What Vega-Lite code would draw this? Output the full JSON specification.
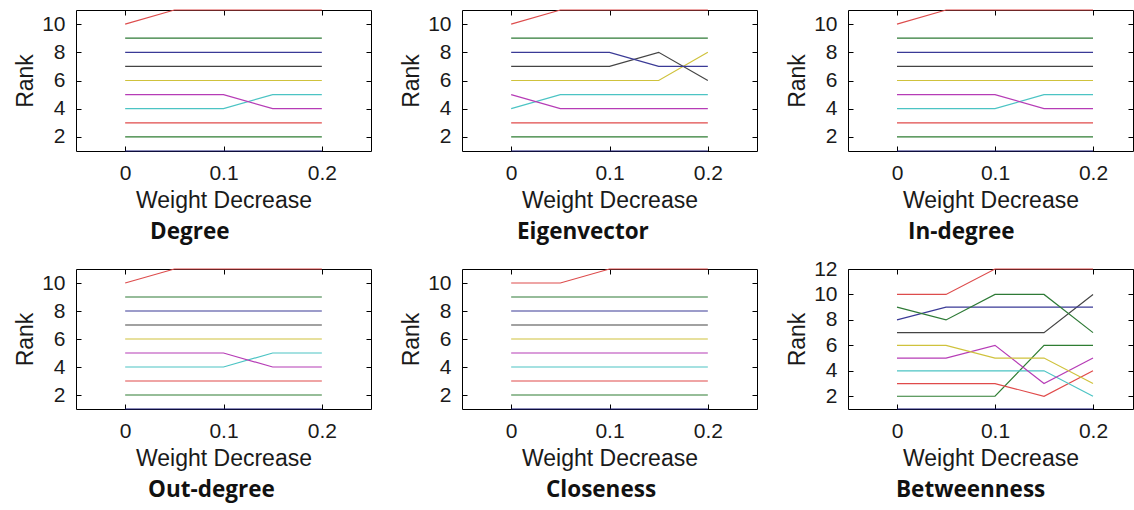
{
  "$schema": "https://vega.github.io/schema/vega-lite/v6.json",
  "background": "white",
  "padding": {"left": 14, "top": 7, "right": 0, "bottom": 10},
  "datasets": {
    "d": [
      {"p":"Degree","s":"s1","x":0,"r":1},{"p":"Degree","s":"s1","x":0.2,"r":1},
      {"p":"Degree","s":"s2","x":0,"r":2},{"p":"Degree","s":"s2","x":0.2,"r":2},
      {"p":"Degree","s":"s3","x":0,"r":3},{"p":"Degree","s":"s3","x":0.2,"r":3},
      {"p":"Degree","s":"s4","x":0,"r":4},{"p":"Degree","s":"s4","x":0.1,"r":4},{"p":"Degree","s":"s4","x":0.15,"r":5},{"p":"Degree","s":"s4","x":0.2,"r":5},
      {"p":"Degree","s":"s5","x":0,"r":5},{"p":"Degree","s":"s5","x":0.1,"r":5},{"p":"Degree","s":"s5","x":0.15,"r":4},{"p":"Degree","s":"s5","x":0.2,"r":4},
      {"p":"Degree","s":"s6","x":0,"r":6},{"p":"Degree","s":"s6","x":0.2,"r":6},
      {"p":"Degree","s":"s7","x":0,"r":7},{"p":"Degree","s":"s7","x":0.2,"r":7},
      {"p":"Degree","s":"s8","x":0,"r":8},{"p":"Degree","s":"s8","x":0.2,"r":8},
      {"p":"Degree","s":"s9","x":0,"r":9},{"p":"Degree","s":"s9","x":0.2,"r":9},
      {"p":"Degree","s":"s10","x":0,"r":10},{"p":"Degree","s":"s10","x":0.05,"r":11},{"p":"Degree","s":"s10","x":0.2,"r":11},

      {"p":"Eigenvector","s":"s1","x":0,"r":1},{"p":"Eigenvector","s":"s1","x":0.2,"r":1},
      {"p":"Eigenvector","s":"s2","x":0,"r":2},{"p":"Eigenvector","s":"s2","x":0.2,"r":2},
      {"p":"Eigenvector","s":"s3","x":0,"r":3},{"p":"Eigenvector","s":"s3","x":0.2,"r":3},
      {"p":"Eigenvector","s":"s4","x":0,"r":4},{"p":"Eigenvector","s":"s4","x":0.05,"r":5},{"p":"Eigenvector","s":"s4","x":0.2,"r":5},
      {"p":"Eigenvector","s":"s5","x":0,"r":5},{"p":"Eigenvector","s":"s5","x":0.05,"r":4},{"p":"Eigenvector","s":"s5","x":0.2,"r":4},
      {"p":"Eigenvector","s":"s6","x":0,"r":6},{"p":"Eigenvector","s":"s6","x":0.15,"r":6},{"p":"Eigenvector","s":"s6","x":0.2,"r":8},
      {"p":"Eigenvector","s":"s7","x":0,"r":7},{"p":"Eigenvector","s":"s7","x":0.1,"r":7},{"p":"Eigenvector","s":"s7","x":0.15,"r":8},{"p":"Eigenvector","s":"s7","x":0.2,"r":6},
      {"p":"Eigenvector","s":"s8","x":0,"r":8},{"p":"Eigenvector","s":"s8","x":0.1,"r":8},{"p":"Eigenvector","s":"s8","x":0.15,"r":7},{"p":"Eigenvector","s":"s8","x":0.2,"r":7},
      {"p":"Eigenvector","s":"s9","x":0,"r":9},{"p":"Eigenvector","s":"s9","x":0.2,"r":9},
      {"p":"Eigenvector","s":"s10","x":0,"r":10},{"p":"Eigenvector","s":"s10","x":0.05,"r":11},{"p":"Eigenvector","s":"s10","x":0.2,"r":11},

      {"p":"In-degree","s":"s1","x":0,"r":1},{"p":"In-degree","s":"s1","x":0.2,"r":1},
      {"p":"In-degree","s":"s2","x":0,"r":2},{"p":"In-degree","s":"s2","x":0.2,"r":2},
      {"p":"In-degree","s":"s3","x":0,"r":3},{"p":"In-degree","s":"s3","x":0.2,"r":3},
      {"p":"In-degree","s":"s4","x":0,"r":4},{"p":"In-degree","s":"s4","x":0.1,"r":4},{"p":"In-degree","s":"s4","x":0.15,"r":5},{"p":"In-degree","s":"s4","x":0.2,"r":5},
      {"p":"In-degree","s":"s5","x":0,"r":5},{"p":"In-degree","s":"s5","x":0.1,"r":5},{"p":"In-degree","s":"s5","x":0.15,"r":4},{"p":"In-degree","s":"s5","x":0.2,"r":4},
      {"p":"In-degree","s":"s6","x":0,"r":6},{"p":"In-degree","s":"s6","x":0.2,"r":6},
      {"p":"In-degree","s":"s7","x":0,"r":7},{"p":"In-degree","s":"s7","x":0.2,"r":7},
      {"p":"In-degree","s":"s8","x":0,"r":8},{"p":"In-degree","s":"s8","x":0.2,"r":8},
      {"p":"In-degree","s":"s9","x":0,"r":9},{"p":"In-degree","s":"s9","x":0.2,"r":9},
      {"p":"In-degree","s":"s10","x":0,"r":10},{"p":"In-degree","s":"s10","x":0.05,"r":11},{"p":"In-degree","s":"s10","x":0.2,"r":11},

      {"p":"Out-degree","s":"s1","x":0,"r":1},{"p":"Out-degree","s":"s1","x":0.2,"r":1},
      {"p":"Out-degree","s":"s2","x":0,"r":2},{"p":"Out-degree","s":"s2","x":0.2,"r":2},
      {"p":"Out-degree","s":"s3","x":0,"r":3},{"p":"Out-degree","s":"s3","x":0.2,"r":3},
      {"p":"Out-degree","s":"s4","x":0,"r":4},{"p":"Out-degree","s":"s4","x":0.1,"r":4},{"p":"Out-degree","s":"s4","x":0.15,"r":5},{"p":"Out-degree","s":"s4","x":0.2,"r":5},
      {"p":"Out-degree","s":"s5","x":0,"r":5},{"p":"Out-degree","s":"s5","x":0.1,"r":5},{"p":"Out-degree","s":"s5","x":0.15,"r":4},{"p":"Out-degree","s":"s5","x":0.2,"r":4},
      {"p":"Out-degree","s":"s6","x":0,"r":6},{"p":"Out-degree","s":"s6","x":0.2,"r":6},
      {"p":"Out-degree","s":"s7","x":0,"r":7},{"p":"Out-degree","s":"s7","x":0.2,"r":7},
      {"p":"Out-degree","s":"s8","x":0,"r":8},{"p":"Out-degree","s":"s8","x":0.2,"r":8},
      {"p":"Out-degree","s":"s9","x":0,"r":9},{"p":"Out-degree","s":"s9","x":0.2,"r":9},
      {"p":"Out-degree","s":"s10","x":0,"r":10},{"p":"Out-degree","s":"s10","x":0.05,"r":11},{"p":"Out-degree","s":"s10","x":0.2,"r":11},

      {"p":"Closeness","s":"s1","x":0,"r":1},{"p":"Closeness","s":"s1","x":0.2,"r":1},
      {"p":"Closeness","s":"s2","x":0,"r":2},{"p":"Closeness","s":"s2","x":0.2,"r":2},
      {"p":"Closeness","s":"s3","x":0,"r":3},{"p":"Closeness","s":"s3","x":0.2,"r":3},
      {"p":"Closeness","s":"s4","x":0,"r":4},{"p":"Closeness","s":"s4","x":0.2,"r":4},
      {"p":"Closeness","s":"s5","x":0,"r":5},{"p":"Closeness","s":"s5","x":0.2,"r":5},
      {"p":"Closeness","s":"s6","x":0,"r":6},{"p":"Closeness","s":"s6","x":0.2,"r":6},
      {"p":"Closeness","s":"s7","x":0,"r":7},{"p":"Closeness","s":"s7","x":0.2,"r":7},
      {"p":"Closeness","s":"s8","x":0,"r":8},{"p":"Closeness","s":"s8","x":0.2,"r":8},
      {"p":"Closeness","s":"s9","x":0,"r":9},{"p":"Closeness","s":"s9","x":0.2,"r":9},
      {"p":"Closeness","s":"s10","x":0,"r":10},{"p":"Closeness","s":"s10","x":0.05,"r":10},{"p":"Closeness","s":"s10","x":0.1,"r":11},{"p":"Closeness","s":"s10","x":0.2,"r":11},

      {"p":"Betweenness","s":"s1","x":0,"r":1},{"p":"Betweenness","s":"s1","x":0.2,"r":1},
      {"p":"Betweenness","s":"s2","x":0,"r":2},{"p":"Betweenness","s":"s2","x":0.1,"r":2},{"p":"Betweenness","s":"s2","x":0.15,"r":6},{"p":"Betweenness","s":"s2","x":0.2,"r":6},
      {"p":"Betweenness","s":"s3","x":0,"r":3},{"p":"Betweenness","s":"s3","x":0.1,"r":3},{"p":"Betweenness","s":"s3","x":0.15,"r":2},{"p":"Betweenness","s":"s3","x":0.2,"r":4},
      {"p":"Betweenness","s":"s4","x":0,"r":4},{"p":"Betweenness","s":"s4","x":0.15,"r":4},{"p":"Betweenness","s":"s4","x":0.2,"r":2},
      {"p":"Betweenness","s":"s5","x":0,"r":5},{"p":"Betweenness","s":"s5","x":0.05,"r":5},{"p":"Betweenness","s":"s5","x":0.1,"r":6},{"p":"Betweenness","s":"s5","x":0.15,"r":3},{"p":"Betweenness","s":"s5","x":0.2,"r":5},
      {"p":"Betweenness","s":"s6","x":0,"r":6},{"p":"Betweenness","s":"s6","x":0.05,"r":6},{"p":"Betweenness","s":"s6","x":0.1,"r":5},{"p":"Betweenness","s":"s6","x":0.15,"r":5},{"p":"Betweenness","s":"s6","x":0.2,"r":3},
      {"p":"Betweenness","s":"s7","x":0,"r":7},{"p":"Betweenness","s":"s7","x":0.15,"r":7},{"p":"Betweenness","s":"s7","x":0.2,"r":10},
      {"p":"Betweenness","s":"s8","x":0,"r":8},{"p":"Betweenness","s":"s8","x":0.05,"r":9},{"p":"Betweenness","s":"s8","x":0.2,"r":9},
      {"p":"Betweenness","s":"s9","x":0,"r":9},{"p":"Betweenness","s":"s9","x":0.05,"r":8},{"p":"Betweenness","s":"s9","x":0.1,"r":10},{"p":"Betweenness","s":"s9","x":0.15,"r":10},{"p":"Betweenness","s":"s9","x":0.2,"r":7},
      {"p":"Betweenness","s":"s10","x":0,"r":10},{"p":"Betweenness","s":"s10","x":0.05,"r":10},{"p":"Betweenness","s":"s10","x":0.1,"r":12},{"p":"Betweenness","s":"s10","x":0.2,"r":12}
    ]
  },
  "config": {
    "view": {"stroke": "black", "strokeWidth": 1},
    "axis": {
      "labelFont": "Liberation Sans", "titleFont": "Liberation Sans",
      "labelFontSize": 21, "titleFontSize": 23, "titleFontWeight": "normal",
      "labelColor": "#1a1a1a", "titleColor": "#1a1a1a",
      "grid": false, "domain": false, "tickColor": "black", "tickSize": -5,
      "labelPadding": 16
    },
    "axisX": {"titlePadding": 6},
    "axisY": {"titlePadding": 4},
    "title": {"font": "Open Sans", "fontSize": 22.5, "fontWeight": "bold", "color": "#111", "orient": "bottom", "anchor": "start", "frame": "group", "offset": 9},
    "line": {"strokeWidth": 1.2}
  },
  "spacing": 13,
  "vconcat": [
    {
      "spacing": 28,
      "hconcat": [
        {
          "width": 295, "height": 141,
          "title": {"text": "Degree", "dx": 74},
          "data": {"name": "d"},
          "transform": [{"filter": "datum.p === 'Degree'"}],
          "layer": [
            {"mark": {"type": "line"},
             "encoding": {
               "x": {"field": "x", "type": "quantitative", "scale": {"domain": [-0.05, 0.25], "nice": false, "zero": false}, "axis": {"orient": "bottom", "values": [0, 0.1, 0.2], "format": "~g", "title": "Weight Decrease"}},
               "y": {"field": "r", "type": "quantitative", "scale": {"domain": [1, 11], "nice": false, "zero": false}, "axis": {"orient": "left", "values": [2, 4, 6, 8, 10], "title": "Rank"}},
               "color": {"field": "s", "type": "nominal", "legend": null, "scale": {"domain": ["s1","s2","s3","s4","s5","s6","s7","s8","s9","s10"], "range": ["#1c1c78","#2e7d32","#e04a4a","#4cc4c4","#b63cb6","#cfc23c","#444444","#3a3a96","#2e7a36","#dd4c4c"]}},
               "strokeWidth": {"condition": {"test": "datum.s === 's1'", "value": 2.5}, "value": 1.2}
             }},
            {"mark": {"type": "line", "opacity": 0},
             "encoding": {
               "x": {"field": "x", "type": "quantitative", "axis": {"orient": "top", "values": [0, 0.1, 0.2], "labels": false, "title": null}},
               "y": {"field": "r", "type": "quantitative", "axis": {"orient": "right", "values": [2, 4, 6, 8, 10], "labels": false, "title": null}},
               "detail": {"field": "s"}
             }}
          ],
          "resolve": {"axis": {"x": "independent", "y": "independent"}}
        },
        {
          "width": 295, "height": 141,
          "title": {"text": "Eigenvector", "dx": 55},
          "data": {"name": "d"},
          "transform": [{"filter": "datum.p === 'Eigenvector'"}],
          "layer": [
            {"mark": {"type": "line"},
             "encoding": {
               "x": {"field": "x", "type": "quantitative", "scale": {"domain": [-0.05, 0.25], "nice": false, "zero": false}, "axis": {"orient": "bottom", "values": [0, 0.1, 0.2], "format": "~g", "title": "Weight Decrease"}},
               "y": {"field": "r", "type": "quantitative", "scale": {"domain": [1, 11], "nice": false, "zero": false}, "axis": {"orient": "left", "values": [2, 4, 6, 8, 10], "title": "Rank"}},
               "color": {"field": "s", "type": "nominal", "legend": null},
               "strokeWidth": {"condition": {"test": "datum.s === 's1'", "value": 2.5}, "value": 1.2}
             }},
            {"mark": {"type": "line", "opacity": 0},
             "encoding": {
               "x": {"field": "x", "type": "quantitative", "axis": {"orient": "top", "values": [0, 0.1, 0.2], "labels": false, "title": null}},
               "y": {"field": "r", "type": "quantitative", "axis": {"orient": "right", "values": [2, 4, 6, 8, 10], "labels": false, "title": null}},
               "detail": {"field": "s"}
             }}
          ],
          "resolve": {"axis": {"x": "independent", "y": "independent"}}
        },
        {
          "width": 285, "height": 141,
          "title": {"text": "In-degree", "dx": 60},
          "data": {"name": "d"},
          "transform": [{"filter": "datum.p === 'In-degree'"}],
          "layer": [
            {"mark": {"type": "line"},
             "encoding": {
               "x": {"field": "x", "type": "quantitative", "scale": {"domain": [-0.05, 0.2408], "nice": false, "zero": false}, "axis": {"orient": "bottom", "values": [0, 0.1, 0.2], "format": "~g", "title": "Weight Decrease"}},
               "y": {"field": "r", "type": "quantitative", "scale": {"domain": [1, 11], "nice": false, "zero": false}, "axis": {"orient": "left", "values": [2, 4, 6, 8, 10], "title": "Rank"}},
               "color": {"field": "s", "type": "nominal", "legend": null},
               "strokeWidth": {"condition": {"test": "datum.s === 's1'", "value": 2.5}, "value": 1.2}
             }},
            {"mark": {"type": "line", "opacity": 0},
             "encoding": {
               "x": {"field": "x", "type": "quantitative", "axis": {"orient": "top", "values": [0, 0.1, 0.2], "labels": false, "title": null}},
               "y": {"field": "r", "type": "quantitative", "axis": {"orient": "right", "values": [2, 4, 6, 8, 10], "labels": false, "title": null}},
               "detail": {"field": "s"}
             }}
          ],
          "resolve": {"axis": {"x": "independent", "y": "independent"}}
        }
      ]
    },
    {
      "spacing": 28,
      "hconcat": [
        {
          "width": 295, "height": 140,
          "title": {"text": "Out-degree", "dx": 72},
          "data": {"name": "d"},
          "transform": [{"filter": "datum.p === 'Out-degree'"}],
          "layer": [
            {"mark": {"type": "line"},
             "encoding": {
               "x": {"field": "x", "type": "quantitative", "scale": {"domain": [-0.05, 0.25], "nice": false, "zero": false}, "axis": {"orient": "bottom", "values": [0, 0.1, 0.2], "format": "~g", "title": "Weight Decrease"}},
               "y": {"field": "r", "type": "quantitative", "scale": {"domain": [1, 11], "nice": false, "zero": false}, "axis": {"orient": "left", "values": [2, 4, 6, 8, 10], "title": "Rank"}},
               "color": {"field": "s", "type": "nominal", "legend": null},
               "strokeWidth": {"condition": {"test": "datum.s === 's1'", "value": 2.5}, "value": 1.2}
             }},
            {"mark": {"type": "line", "opacity": 0},
             "encoding": {
               "x": {"field": "x", "type": "quantitative", "axis": {"orient": "top", "values": [0, 0.1, 0.2], "labels": false, "title": null}},
               "y": {"field": "r", "type": "quantitative", "axis": {"orient": "right", "values": [2, 4, 6, 8, 10], "labels": false, "title": null}},
               "detail": {"field": "s"}
             }}
          ],
          "resolve": {"axis": {"x": "independent", "y": "independent"}}
        },
        {
          "width": 295, "height": 140,
          "title": {"text": "Closeness", "dx": 84},
          "data": {"name": "d"},
          "transform": [{"filter": "datum.p === 'Closeness'"}],
          "layer": [
            {"mark": {"type": "line"},
             "encoding": {
               "x": {"field": "x", "type": "quantitative", "scale": {"domain": [-0.05, 0.25], "nice": false, "zero": false}, "axis": {"orient": "bottom", "values": [0, 0.1, 0.2], "format": "~g", "title": "Weight Decrease"}},
               "y": {"field": "r", "type": "quantitative", "scale": {"domain": [1, 11], "nice": false, "zero": false}, "axis": {"orient": "left", "values": [2, 4, 6, 8, 10], "title": "Rank"}},
               "color": {"field": "s", "type": "nominal", "legend": null},
               "strokeWidth": {"condition": {"test": "datum.s === 's1'", "value": 2.5}, "value": 1.2}
             }},
            {"mark": {"type": "line", "opacity": 0},
             "encoding": {
               "x": {"field": "x", "type": "quantitative", "axis": {"orient": "top", "values": [0, 0.1, 0.2], "labels": false, "title": null}},
               "y": {"field": "r", "type": "quantitative", "axis": {"orient": "right", "values": [2, 4, 6, 8, 10], "labels": false, "title": null}},
               "detail": {"field": "s"}
             }}
          ],
          "resolve": {"axis": {"x": "independent", "y": "independent"}}
        },
        {
          "width": 285, "height": 140,
          "title": {"text": "Betweenness", "dx": 48},
          "data": {"name": "d"},
          "transform": [{"filter": "datum.p === 'Betweenness'"}],
          "layer": [
            {"mark": {"type": "line"},
             "encoding": {
               "x": {"field": "x", "type": "quantitative", "scale": {"domain": [-0.05, 0.2408], "nice": false, "zero": false}, "axis": {"orient": "bottom", "values": [0, 0.1, 0.2], "format": "~g", "title": "Weight Decrease"}},
               "y": {"field": "r", "type": "quantitative", "scale": {"domain": [1, 12], "nice": false, "zero": false}, "axis": {"orient": "left", "values": [2, 4, 6, 8, 10, 12], "title": "Rank"}},
               "color": {"field": "s", "type": "nominal", "legend": null},
               "strokeWidth": {"condition": {"test": "datum.s === 's1'", "value": 2.5}, "value": 1.2}
             }},
            {"mark": {"type": "line", "opacity": 0},
             "encoding": {
               "x": {"field": "x", "type": "quantitative", "axis": {"orient": "top", "values": [0, 0.1, 0.2], "labels": false, "title": null}},
               "y": {"field": "r", "type": "quantitative", "axis": {"orient": "right", "values": [2, 4, 6, 8, 10, 12], "labels": false, "title": null}},
               "detail": {"field": "s"}
             }}
          ],
          "resolve": {"axis": {"x": "independent", "y": "independent"}}
        }
      ]
    }
  ]
}
